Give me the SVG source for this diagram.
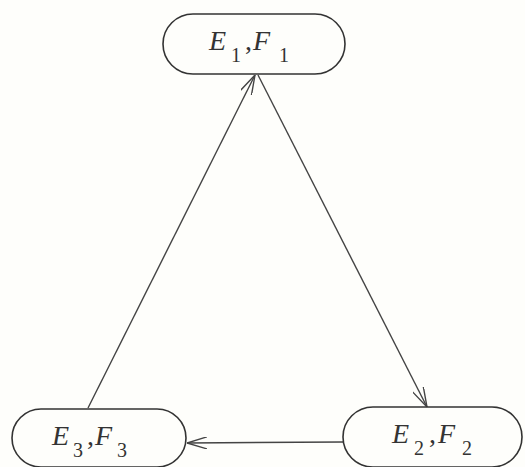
<svg xmlns="http://www.w3.org/2000/svg" width="525" height="467" viewBox="0 0 525 467">
<style>
.node{fill:none;stroke:#333;stroke-width:1.6}
.edge{fill:none;stroke:#444;stroke-width:1.4}
.m{font-family:"Liberation Serif",serif;font-style:italic;font-size:28px;fill:#333}
.s{font-family:"Liberation Serif",serif;font-size:20px;fill:#333}
.c{font-family:"Liberation Serif",serif;font-size:28px;fill:#333}
</style>
<defs>
<marker id="arr" markerUnits="userSpaceOnUse" viewBox="0 0 20 12" refX="20" refY="6" markerWidth="20" markerHeight="12" orient="auto">
<path d="M0,0 L20,6 L0,12" fill="none" stroke="#444" stroke-width="1.4"/>
</marker>
</defs>
<rect width="525" height="467" fill="#fefefb"/>
<g id="connectors">
<line class="edge" x1="88" y1="408" x2="255" y2="75" marker-end="url(#arr)"/>
<line class="edge" x1="258" y1="75" x2="427" y2="407" marker-end="url(#arr)"/>
<line class="edge" x1="343" y1="442" x2="187" y2="443" marker-end="url(#arr)"/>
</g>
<g id="n1">
<rect class="node" x="163" y="14" width="182" height="60" rx="30"/>
<text class="m" x="209" y="50">E</text><text class="s" x="231" y="62">1</text><text class="c" x="245" y="50">,</text>
<text class="m" x="253" y="50">F</text><text class="s" x="279" y="62">1</text>
</g>
<g id="n3">
<rect class="node" x="12" y="409" width="174" height="58" rx="29"/>
<text class="m" x="52" y="445">E</text><text class="s" x="73" y="457">3</text><text class="c" x="87" y="445">,</text>
<text class="m" x="95" y="445">F</text><text class="s" x="117" y="457">3</text>
</g>
<g id="n2">
<rect class="node" x="343" y="407" width="179" height="60" rx="30"/>
<text class="m" x="392" y="443">E</text><text class="s" x="414" y="455">2</text><text class="c" x="429" y="443">,</text>
<text class="m" x="438" y="443">F</text><text class="s" x="462" y="455">2</text>
</g>
</svg>
